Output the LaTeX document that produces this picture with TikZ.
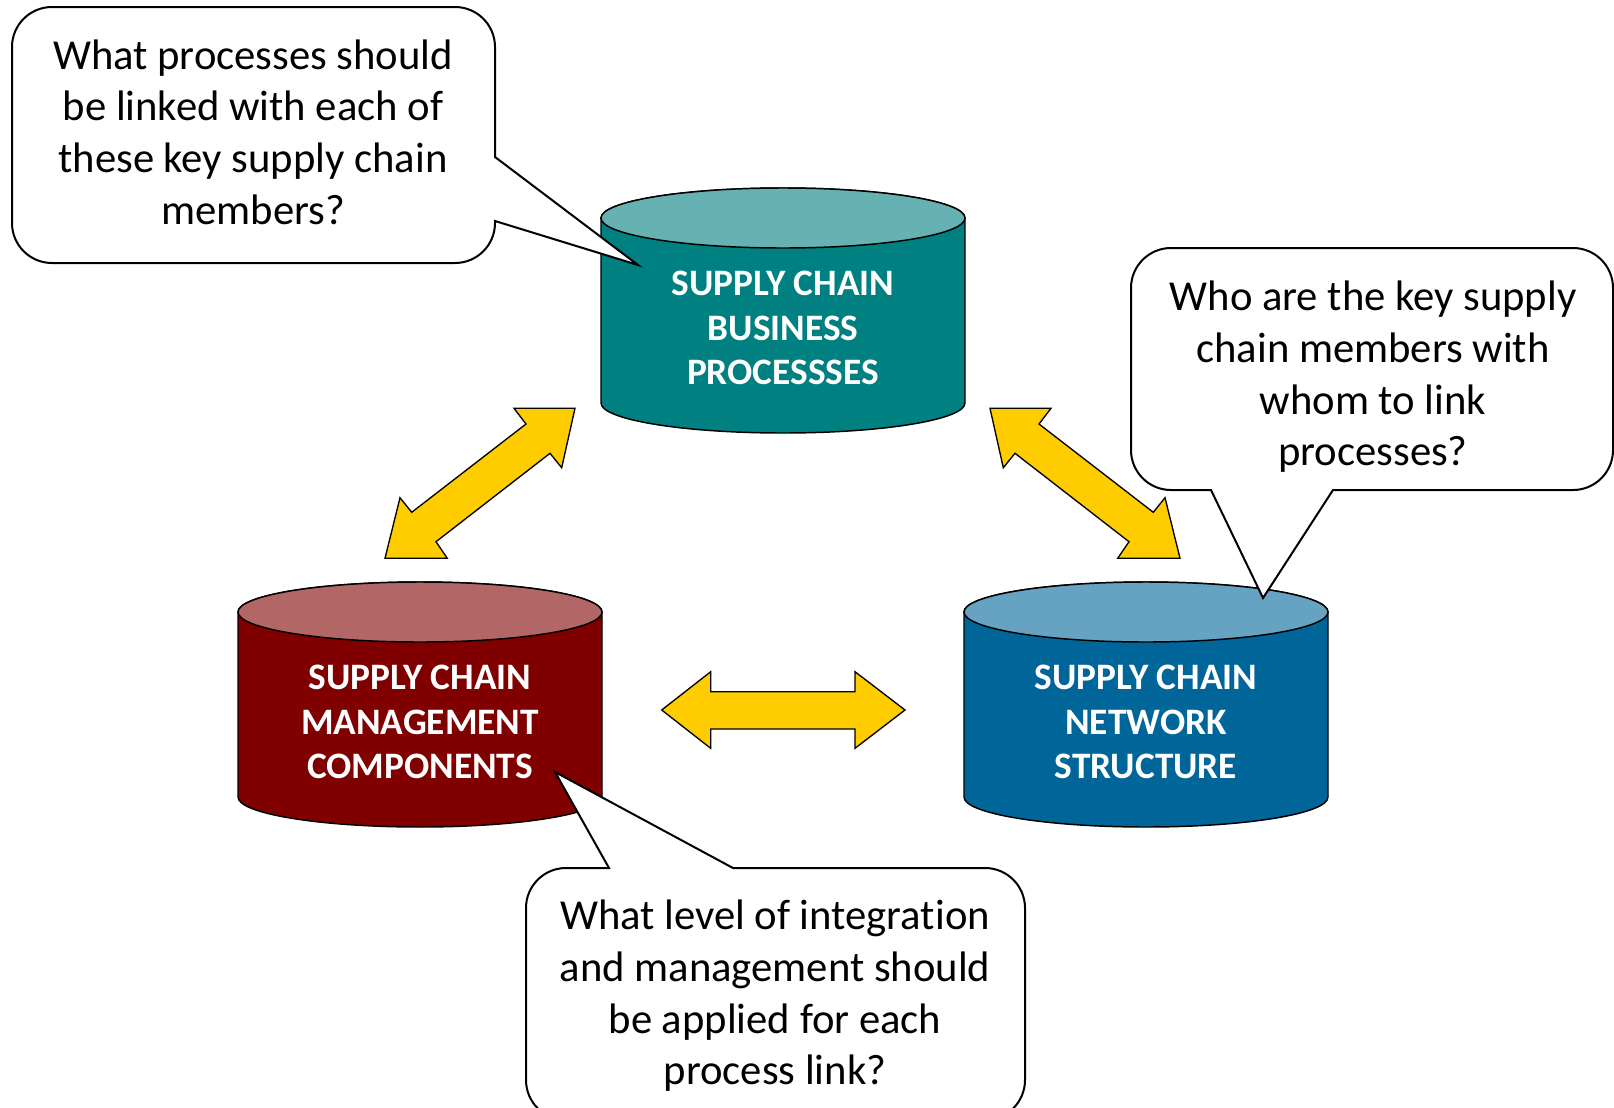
\documentclass[tikz,border=0pt]{standalone}
\usepackage{fontspec}
\setmainfont{Carlito}[Ligatures=NoCommon]
\definecolor{tealbody}{HTML}{008080}
\definecolor{tealtop}{HTML}{66B2B2}
\definecolor{redbody}{HTML}{800000}
\definecolor{redtop}{HTML}{B36666}
\definecolor{bluebody}{HTML}{006699}
\definecolor{bluetop}{HTML}{66A3C2}
\definecolor{arrowyellow}{HTML}{FFCC00}
\newcommand{\mycyl}[5]{%
  \draw[cylline, fill=#4] (#1-182,-#2) -- (#1-182,-#3)
    arc[start angle=180, end angle=360, x radius=182, y radius=30]
    -- (#1+182,-#2)
    arc[start angle=0, end angle=180, x radius=182, y radius=30] -- cycle;
  \draw[cylline, fill=#5] (#1,-#2) ellipse[x radius=182, y radius=30];
}
\begin{document}
\begin{tikzpicture}[x=0.75pt, y=0.75pt,
  cylline/.style={draw=black, line width=1.1pt},
  callout/.style={draw=black, line width=1.5pt, fill=white, line join=miter},
  qtext/.style={font=\fontsize{32}{38.8}\selectfont, align=center, text=black, inner sep=0pt},
  ctext/.style={font=\fontsize{28}{33.4}\selectfont\bfseries, align=center, text=white, inner sep=0pt},
  dblarrow/.style={draw=black, line width=1pt, fill=arrowyellow, line join=miter}]
\useasboundingbox (0,0) rectangle (1614,-1107);
\clip (0,0) rectangle (1614,-1107);

% cylinders
\mycyl{783}{218}{403}{tealbody}{tealtop}
\mycyl{420}{612}{797}{redbody}{redtop}
\mycyl{1146}{612}{797}{bluebody}{bluetop}
\node[ctext] (proc) at (783,-328) {SUPPLY CHAIN\\BUSINESS\\PROCESSSES};
\node[ctext] (comp) at (420,-722) {SUPPLY CHAIN\\MANAGEMENT\\COMPONENTS};
\node[ctext] (net) at (1146,-722) {SUPPLY CHAIN\\NETWORK\\STRUCTURE};

% block arrows
\draw[dblarrow] (575,-408.3) -- (561.7,-467.7) -- (550,-453.3) -- (436,-541.7)
  -- (447.3,-558.3) -- (385,-558.3) -- (400,-497.7) -- (411.7,-512.3)
  -- (526,-424) -- (514,-408.3) -- cycle;
\draw[dblarrow] (990,-408.3) -- (1003.3,-467.7) -- (1015,-453.3) -- (1129,-541.7)
  -- (1117.7,-558.3) -- (1180,-558.3) -- (1165,-497.7) -- (1153.3,-512.3)
  -- (1039,-424) -- (1051,-408.3) -- cycle;
\draw[dblarrow] (661.7,-710) -- (710.7,-671.7) -- (710.7,-691.7) -- (855,-691.7)
  -- (855,-671.7) -- (905,-710) -- (855,-748.3) -- (855,-729) -- (710.7,-729)
  -- (710.7,-748.3) -- cycle;

% callout 1
\draw[callout] (52,-7) -- (455,-7) arc[start angle=90, end angle=0, radius=40]
  -- (495,-157) -- (638,-265) -- (495,-221) -- (495,-223)
  arc[start angle=0, end angle=-90, radius=40] -- (52,-263)
  arc[start angle=270, end angle=180, radius=40] -- (12,-47)
  arc[start angle=180, end angle=90, radius=40] -- cycle;
\node[qtext] (q1) at (253,-132) {What processes should\\be linked with each of\\these key supply chain\\members?};

% callout 2
\draw[callout] (1171,-248) -- (1573,-248) arc[start angle=90, end angle=0, radius=40]
  -- (1613,-450) arc[start angle=0, end angle=-90, radius=40]
  -- (1333,-490) -- (1263,-598) -- (1211,-490) -- (1171,-490)
  arc[start angle=270, end angle=180, radius=40] -- (1131,-288)
  arc[start angle=180, end angle=90, radius=40] -- cycle;
\node[qtext] (q2) at (1373,-377) {Who are the key supply\\chain members with\\whom to link\\processes?};

% callout 3
\draw[callout] (566,-868) -- (609,-868) -- (555,-772) -- (733,-868) -- (985,-868)
  arc[start angle=90, end angle=0, radius=40] -- (1025,-1080)
  arc[start angle=0, end angle=-90, radius=40] -- (566,-1120)
  arc[start angle=270, end angle=180, radius=40] -- (526,-908)
  arc[start angle=180, end angle=90, radius=40] -- cycle;
\node[qtext] (q3) at (775,-996) {What level of integration\\and management should\\be applied for each\\process link?};
\end{tikzpicture}
\end{document}
